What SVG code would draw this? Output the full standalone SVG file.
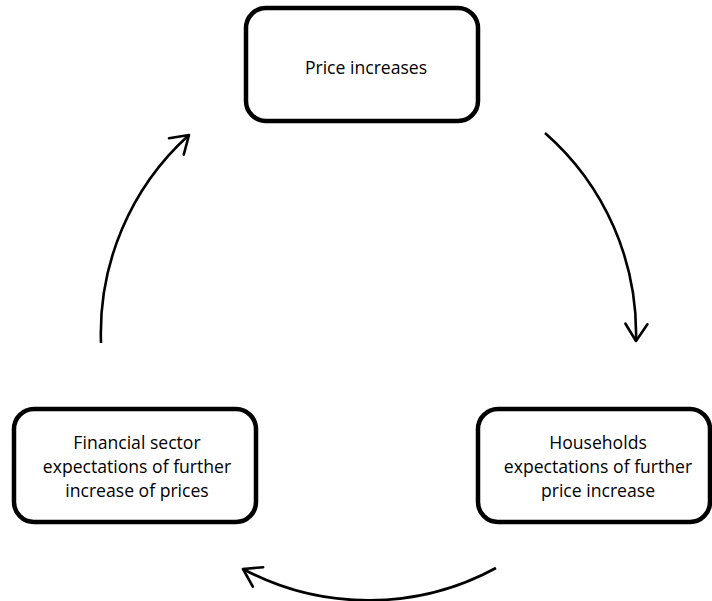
<svg xmlns="http://www.w3.org/2000/svg" width="712" height="601" viewBox="0 0 712 601">
<defs>
<style>
.box{fill:#fff;stroke:#000;stroke-width:4.5}
.lbl{font-family:"Open Sans","DejaVu Sans",sans-serif;font-size:17.6px;fill:#000;text-anchor:middle}
.conn{fill:none;stroke:#000;stroke-width:2.6}
</style>
<marker id="arr" markerUnits="userSpaceOnUse" markerWidth="30" markerHeight="30" viewBox="-20 -15 24 30" refX="0" refY="0" orient="auto">
<path d="M -17 -11 L 0 0 L -17 11" fill="none" stroke="#000" stroke-width="2.6" stroke-linecap="round" stroke-linejoin="round"/>
</marker>
</defs>
<rect width="712" height="601" fill="#fff"/>
<g id="connectors">
<path class="conn" d="M 545 133 A 267 267 0 0 1 636 341" marker-end="url(#arr)"/>
<path class="conn" d="M 496 568 A 267 267 0 0 1 243 569" marker-end="url(#arr)"/>
<path class="conn" d="M 101 343 A 267 267 0 0 1 189 135" marker-end="url(#arr)"/>
</g>
<g id="price">
<rect class="box" x="246" y="8" width="232" height="113" rx="20"/>
<text class="lbl" x="366" y="74">Price increases</text>
</g>
<g id="households">
<rect class="box" x="478" y="409" width="232" height="113" rx="20"/>
<text class="lbl" x="598" y="449">Households</text>
<text class="lbl" x="598" y="473">expectations of further</text>
<text class="lbl" x="598" y="497">price increase</text>
</g>
<g id="financial">
<rect class="box" x="14" y="409" width="242" height="113" rx="20"/>
<text class="lbl" x="137" y="449">Financial sector</text>
<text class="lbl" x="137" y="473">expectations of further</text>
<text class="lbl" x="137" y="497">increase of prices</text>
</g>
</svg>
